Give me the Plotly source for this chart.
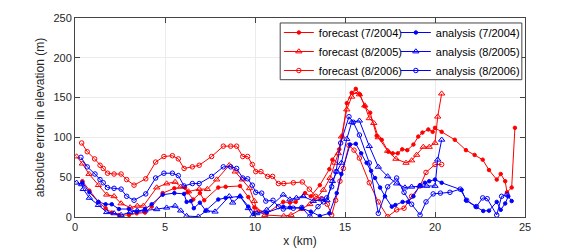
import plotly.graph_objects as go

# ---- data (x in km, absolute error in m) ----
f2004_x = [0.41, 0.8, 1.3, 1.7, 2.04, 2.44, 3.0, 3.43, 3.89, 4.26, 4.87, 5.52, 6.11, 6.26, 6.57, 6.94, 7.18, 7.96, 8.37, 9.17, 9.63, 9.96, 10.65, 11.57, 11.94, 12.26, 12.78, 13.1, 13.6, 14.13, 14.3, 14.68, 14.85, 15.1, 15.37, 15.6, 15.83, 16.1, 16.4, 16.76, 17.04, 17.41, 17.65, 17.93, 18.18, 18.46, 18.8, 19.07, 19.3, 19.63, 19.87, 20.0, 20.37, 21.1, 21.72, 22.2, 22.65, 23.0, 23.43, 23.65, 23.9, 24.0, 24.26, 24.44]
f2004_y = [45, 33, 19, 11, 5.5, 2.5, 2.5, 4.6, 5.5, 13, 30, 36, 37, 31, 22, 30, 21, 37, 38, 39, 25, 12, 4.6, 19, 18, 19, 30, 26, 40, 60, 72, 85, 101, 143, 156, 161, 154, 139, 131, 102, 97, 82, 80, 80, 85, 84, 91, 101, 106, 110, 107, 112, 107, 97, 84, 78, 72, 59, 47, 54, 45, 31, 37, 112]

f2005_x = [0.09, 0.41, 0.78, 1.3, 1.76, 2.17, 2.56, 3.06, 3.46, 3.8, 4.54, 5.09, 5.56, 5.87, 6.3, 6.9, 7.35, 7.87, 8.57, 8.9, 9.3, 9.7, 9.96, 10.1, 10.55, 11.6, 12.0, 12.6, 13.05, 13.4, 13.8, 14.17, 14.44, 14.63, 14.8, 15.1, 15.37, 15.6, 15.8, 16.1, 16.35, 16.6, 16.85, 17.37, 17.83, 18.39, 18.7, 18.98, 19.35, 19.68, 20.0, 20.15, 20.37]
f2005_y = [76, 67, 54, 40, 28, 26, 17, 12, 14, 14, 37, 42, 44, 38, 32, 35, 35, 47, 65, 57, 47, 36, 20, 9, 2.5, 1.2, 2.5, 10, 16, 23, 34, 49, 68, 80, 101, 135, 151, 157, 154, 140, 124, 118, 100, 83, 73, 68, 71, 78, 88, 88, 93, 126, 155]

f2006_x = [0.37, 0.68, 1.09, 1.39, 1.57, 1.81, 2.17, 2.56, 2.87, 3.28, 3.93, 4.48, 4.94, 5.41, 5.74, 6.06, 6.52, 6.9, 7.59, 8.24, 8.65, 8.98, 9.32, 9.59, 9.85, 10.04, 10.33, 10.7, 10.98, 11.3, 11.6, 12.13, 12.63, 13.02, 13.37, 13.7, 14.02, 14.26, 14.48, 14.72, 14.91, 15.22, 15.5, 15.8, 16.35, 16.85, 17.37, 17.87, 18.28, 18.7, 19.17, 19.5, 20.0, 20.37]
f2006_y = [93, 82, 73, 65, 61, 55, 54, 54, 47, 40, 48, 69, 76, 77, 73, 61, 63, 65, 76, 89, 89, 89, 76, 76, 66, 57, 57, 51, 51, 42, 42, 43, 44, 35, 26, 23, 16, 2.5, 21, 45, 61, 90, 84, 74, 43, 19, 0.4, 9, 11, 26, 39, 56, 66, 66]

a2004_x = [0.41, 0.8, 1.3, 1.7, 2.04, 2.44, 3.0, 3.43, 3.89, 4.26, 4.87, 5.52, 6.06, 6.2, 6.44, 6.6, 6.94, 7.26, 7.96, 8.37, 9.17, 9.63, 9.96, 10.65, 11.57, 11.94, 12.6, 13.1, 13.6, 14.13, 14.54, 14.8, 15.28, 15.6, 15.9, 16.2, 16.45, 16.67, 16.95, 17.22, 17.6, 17.8, 18.2, 18.5, 18.8, 19.17, 19.44, 19.68, 20.0, 20.37, 21.48, 21.72, 22.26, 22.68, 23.0, 23.43, 23.65, 23.9, 24.07, 24.26]
a2004_y = [43, 31, 19, 16, 16, 10, 10, 6.7, 10, 16, 28, 30, 29, 19, 20, 11, 18, 8, 22, 24, 26, 13, 4.6, 5.5, 13, 12, 11, 6.7, 1.2, 4.6, 30, 54, 91, 92, 80, 68, 58, 49, 37, 26, 13, 15, 19, 19, 26, 40, 43, 45, 47, 43, 34, 21, 13, 7.6, 8, 19, 9, 17, 26, 20]

a2005_x = [0.09, 0.37, 0.46, 0.8, 1.3, 1.76, 2.17, 2.56, 3.06, 3.46, 3.89, 4.54, 5.09, 5.56, 5.87, 6.2, 6.85, 7.31, 7.78, 8.57, 8.76, 9.17, 9.63, 9.87, 10.1, 10.65, 11.57, 11.94, 12.3, 12.68, 13.24, 13.7, 14.0, 14.3, 14.55, 14.8, 15.1, 15.37, 15.8, 16.35, 16.85, 17.37, 17.87, 18.33, 18.7, 19.17, 19.54, 20.0, 20.15, 20.37]
a2005_y = [43, 41, 35, 24, 15, 6, 4.6, 2.5, 6, 8, 8, 9.7, 11.7, 14, 8, 1.2, 0.4, 8, 6.7, 26, 18, 26, 11, 1.2, 4.6, 9, 28, 22, 24, 26, 20, 22, 21, 45, 57, 68, 98, 119, 121, 89, 63, 51, 42, 37, 38, 39, 39, 39, 72, 97]

a2006_x = [0.33, 0.68, 1.11, 1.39, 1.57, 1.8, 2.17, 2.56, 2.87, 3.28, 3.93, 4.48, 4.94, 5.41, 5.74, 6.06, 6.52, 6.9, 7.59, 8.24, 8.65, 8.98, 9.32, 9.59, 9.85, 10.04, 10.37, 10.6, 11.0, 11.3, 11.57, 12.13, 12.6, 13.05, 13.5, 13.8, 13.98, 14.26, 14.5, 14.76, 15.22, 15.46, 15.8, 16.35, 16.85, 17.37, 17.87, 18.28, 18.7, 19.17, 19.5, 19.9, 20.3, 20.83, 21.4, 21.76, 22.3, 22.65, 22.9, 23.43, 23.7, 24.0]
a2006_y = [75, 63, 54, 47, 43, 37, 36, 35, 26, 21, 29, 49, 55, 55, 52, 39, 42, 42, 51, 63, 63, 61, 49, 48, 40, 31, 30, 20, 21, 13, 10, 11, 12, 0.4, 13, 19, 24, 38, 57, 93, 126, 119, 103, 68, 4.6, 38, 49, 31, 16, 2.5, 19, 29, 30, 31, 35, 21, 13, 24, 23, 2.5, 26, 28]

RED = "#ff0000"
BLUE = "#0000ff"

fig = go.Figure()

def add(x, y, name, color, symbol, size, legend):
    fig.add_trace(go.Scatter(
        x=x, y=y, name=name, mode="lines+markers",
        line=dict(color=color, width=1),
        marker=dict(symbol=symbol, size=size, color=color,
                    line=dict(color=color, width=1)),
        legend=legend,
    ))

add(f2004_x, f2004_y, "forecast (7/2004)", RED, "circle", 3.5, "legend")
add(f2005_x, f2005_y, "forecast (8/2005)", RED, "triangle-up-open", 5.5, "legend")
add(f2006_x, f2006_y, "forecast (8/2006)", RED, "circle-open", 4.5, "legend")
add(a2004_x, a2004_y, "analysis (7/2004)", BLUE, "circle", 3.5, "legend2")
add(a2005_x, a2005_y, "analysis (8/2005)", BLUE, "triangle-up-open", 5.5, "legend2")
add(a2006_x, a2006_y, "analysis (8/2006)", BLUE, "circle-open", 4.5, "legend2")

FONT = "Liberation Sans, Arial, sans-serif"
axis_common = dict(
    showline=True, linecolor="#444", linewidth=1, mirror="ticks",
    ticks="inside", ticklen=5, tickcolor="#444",
    showgrid=True, gridcolor="#ebebeb", gridwidth=1, zeroline=False,
    automargin=False,
    tickfont=dict(family=FONT, size=11, color="#262626"),
)

legend_common = dict(
    font=dict(family=FONT, size=11, color="#000"),
    bgcolor="rgba(0,0,0,0)", borderwidth=0,
    xanchor="left", yanchor="top", tracegroupgap=0,
    itemwidth=30,
)

# page body adds an 8px offset, so margins are shifted accordingly
fig.update_layout(
    width=581, height=251,
    margin=dict(l=67, r=64, t=10, b=42),
    paper_bgcolor="white", plot_bgcolor="white",
    xaxis=dict(range=[0, 25], tickvals=[0, 5, 10, 15, 20, 25],
               title=dict(text="x (km)", font=dict(family=FONT, size=12, color="#262626"), standoff=4),
               **axis_common),
    yaxis=dict(range=[0, 250], tickvals=[0, 50, 100, 150, 200, 250],
               title=dict(text="absolute error in elevation (m)", font=dict(family=FONT, size=12, color="#262626"), standoff=6),
               **axis_common),
    legend=dict(x=0.453, y=1.0, **legend_common),
    legend2=dict(x=0.713, y=1.0, **legend_common),
    shapes=[dict(type="rect", xref="paper", yref="paper",
                 x0=0.456, x1=0.993, y0=0.69, y1=0.975,
                 fillcolor="white", line=dict(color="#444", width=1),
                 layer="above")],
    showlegend=True,
)

fig.write_html("out.html")
